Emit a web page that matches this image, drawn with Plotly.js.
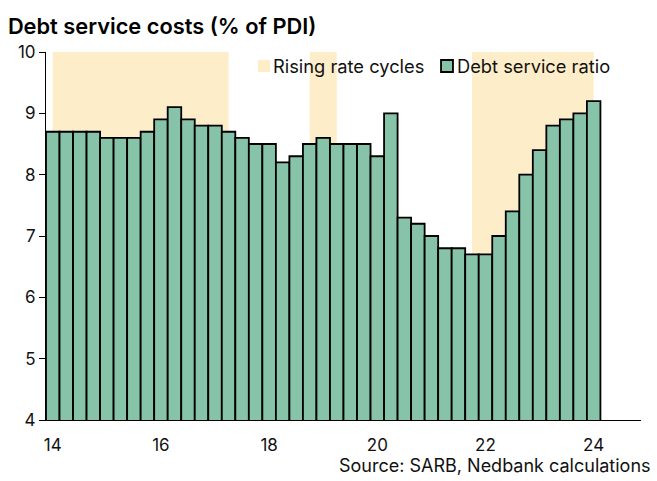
<!DOCTYPE html>
<html>
<head>
<meta charset="utf-8">
<script src="https://cdn.plot.ly/plotly-3.0.1.min.js"></script>
<style>html,body{margin:0;padding:0;background:#fff;}#chart{width:657px;height:481px;}</style>
</head>
<body>
<div id="chart"></div>
<script>
const quarters = ['2014Q1','2014Q2','2014Q3','2014Q4','2015Q1','2015Q2','2015Q3','2015Q4',
  '2016Q1','2016Q2','2016Q3','2016Q4','2017Q1','2017Q2','2017Q3','2017Q4',
  '2018Q1','2018Q2','2018Q3','2018Q4','2019Q1','2019Q2','2019Q3','2019Q4',
  '2020Q1','2020Q2','2020Q3','2020Q4','2021Q1','2021Q2','2021Q3','2021Q4',
  '2022Q1','2022Q2','2022Q3','2022Q4','2023Q1','2023Q2','2023Q3','2023Q4','2024Q1'];
const debtServiceRatio = [8.7,8.7,8.7,8.7,8.6,8.6,8.6,8.7,8.9,9.1,
  8.9,8.8,8.8,8.7,8.6,8.5,8.5,8.2,8.3,8.5,
  8.6,8.5,8.5,8.5,8.3,9.0,7.3,7.2,7.0,6.8,
  6.8,6.7,6.7,7.0,7.4,8.0,8.4,8.8,8.9,9.0,9.2];
const cycleStart = ['2014Q1','2018Q4','2021Q4'];
const cycleEnd = ['2017Q2','2019Q2','2024Q1'];
const tickVals = ['2014Q1','2016Q1','2018Q1','2020Q1','2022Q1','2024Q1'];
const tickText = ['14','16','18','20','22','24'];
const legendNames = ['Rising rate cycles', 'Debt service ratio'];

const FONT = 'Inter, "Liberation Sans", sans-serif';
const shade = '#fdedc9';
const green = '#86c3a8';

const shapes = cycleStart.map((s, i) => ({
  type: 'rect', xref: 'x', yref: 'y', x0: s, x1: cycleEnd[i], y0: 4, y1: 10,
  fillcolor: shade, line: {width: 0}, layer: 'below'
}));
// legend keys (paper coords)
shapes.push({type: 'rect', xref: 'paper', yref: 'paper', x0: 0.3563, x1: 0.3765, y0: 0.9457, y1: 0.9783,
  fillcolor: shade, line: {width: 0}, layer: 'above'});
shapes.push({type: 'rect', xref: 'paper', yref: 'paper', x0: 0.6639, x1: 0.684, y0: 0.9457, y1: 0.9783,
  fillcolor: green, line: {color: '#000', width: 1.8}, layer: 'above'});

const traces = [
  {type: 'bar', x: quarters, y: debtServiceRatio, name: legendNames[1], showlegend: false,
   marker: {color: green, line: {color: '#000', width: 1.8}}}
];

const layout = {
  width: 657, height: 481,
  margin: {l: 46, r: 16, t: 52, b: 61},
  paper_bgcolor: '#fff', plot_bgcolor: 'rgba(0,0,0,0)',
  font: {family: FONT, size: 16, color: '#111'},
  showlegend: false,
  title: {text: 'Debt service costs (% of PDI)', x: 0.012, xanchor: 'left', y: 0.946, yanchor: 'middle',
          font: {family: FONT, size: 21.8, weight: 600, color: '#000'}},
  bargap: 0,
  shapes: shapes,
  xaxis: {type: 'category', categoryorder: 'array', categoryarray: quarters,
          range: [-0.5, 43.5], tickvals: tickVals, ticktext: tickText,
          showline: true, linecolor: '#000', linewidth: 1, ticks: '', showgrid: false,
          zeroline: false, tickfont: {size: 17, color: '#111'}, ticklabelstandoff: 10},
  yaxis: {range: [4, 10], dtick: 1, showline: true, linecolor: '#000', linewidth: 1,
          ticks: 'outside', ticklen: 6, tickcolor: '#000', showgrid: false, zeroline: false,
          tickfont: {size: 17, color: '#111'}},
  annotations: [
    {text: legendNames[0], xref: 'paper', yref: 'paper', x: 0.378, xanchor: 'left', y: 0.962, yanchor: 'middle',
     showarrow: false, font: {size: 18.3, color: '#111'}},
    {text: legendNames[1], xref: 'paper', yref: 'paper', x: 0.6875, xanchor: 'left', y: 0.962, yanchor: 'middle',
     showarrow: false, font: {size: 18.3, color: '#111'}},
    {text: 'Source: SARB, Nedbank calculations', xref: 'paper', yref: 'paper',
    x: 1.0202, xanchor: 'right', y: -0.124, yanchor: 'middle', showarrow: false,
    font: {size: 18, color: '#111'}}]
};

Plotly.newPlot('chart', traces, layout, {displayModeBar: false, staticPlot: true});
</script>
</body>
</html>
